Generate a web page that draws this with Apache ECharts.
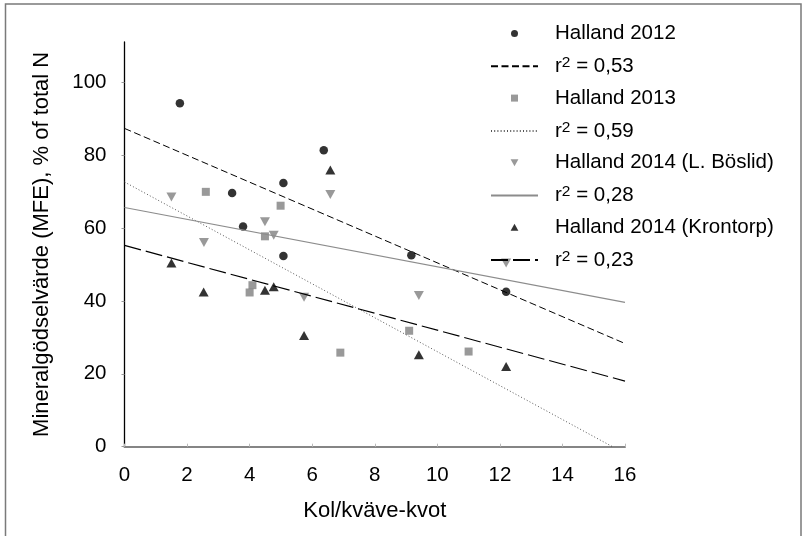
<!DOCTYPE html>
<html>
<head>
<meta charset="utf-8">
<script src="https://cdn.jsdelivr.net/npm/echarts@6/dist/echarts.min.js"></script>
<style>
html,body{margin:0;padding:0;background:#fff;}
#chart{width:807px;height:536px;}
</style>
</head>
<body>
<div id="chart"></div>
<script>
// ---- data ----
const xTicks = [0, 2, 4, 6, 8, 10, 12, 14, 16];
const yTicks = [0, 20, 40, 60, 80, 100];

const x2012 = [1.77, 3.44, 3.79, 5.08, 5.08, 6.37, 9.17, 12.2];
const y2012 = [94.2, 69.6, 60.4, 72.3, 52.3, 81.3, 52.5, 42.5];

const x2013 = [2.6, 4.0, 4.09, 4.49, 4.99, 6.9, 9.1, 11.0];
const y2013 = [69.9, 42.3, 44.3, 57.7, 66.1, 25.8, 31.8, 26.1];

const xBoslid = [1.5, 2.54, 4.49, 4.77, 5.74, 6.58, 9.41, 12.2];
const yBoslid = [68.5, 56.0, 61.7, 58.0, 41.0, 69.2, 41.5, 50.4];

const xKron = [1.5, 2.53, 4.49, 4.77, 5.74, 6.58, 9.41, 12.2];
const yKron = [50.4, 42.4, 42.9, 43.9, 30.5, 75.9, 25.2, 22.0];

// trend line end points [x, y]
const trend2012 = [[0, 87.3], [16, 28.3]];
const trend2013 = [[0, 72.6], [15.6, 0]];
const trendBoslid = [[0, 65.6], [16, 39.6]];
const trendKron = [[0, 55.2], [16, 18.0]];

const names = ['Halland 2012', 'r² = 0,53', 'Halland 2013', 'r² = 0,59',
  'Halland 2014 (L. Böslid)', 'r² = 0,28', 'Halland 2014 (Krontorp)', 'r² = 0,23'];

function pairs(xs, ys) { return xs.map((x, i) => [x, ys[i]]); }

const FONT = 'Liberation Sans, Arial, sans-serif';
const downTri = 'path://M0,0L10,0L5,9Z';
const upTri = 'path://M5,0L10,9L0,9Z';
const square = 'path://M0,0L10,0L10,10L0,10Z';
const hidden = {color: 'rgba(0,0,0,0)', borderWidth: 0, opacity: 0};

const chart = echarts.init(document.getElementById('chart'), null, {renderer: 'canvas'});
chart.setOption({
  backgroundColor: '#fff',
  animation: false,
  textStyle: {fontFamily: FONT},
  graphic: [{
    type: 'rect', shape: {x: 5.5, y: 4, width: 795.5, height: 540},
    style: {fill: 'none', stroke: '#7a7a7a', lineWidth: 1.5}, silent: true, z: 100
  }],
  grid: {left: 124.5, top: 42, width: 500.5, height: 404.7, containLabel: false},
  xAxis: {
    type: 'value', min: 0, max: 16, interval: 2,
    name: 'Kol/kväve-kvot', nameLocation: 'middle', nameGap: 53,
    nameTextStyle: {fontFamily: FONT, fontSize: 22, color: '#000'},
    axisLine: {show: true, onZero: false, lineStyle: {color: '#858585', width: 2}},
    axisTick: {show: true, inside: true, length: 3, lineStyle: {color: '#bbb', width: 1}},
    axisLabel: {fontFamily: FONT, fontSize: 20.5, color: '#000', margin: 18},
    splitLine: {show: false}
  },
  yAxis: {
    type: 'value', min: 0, max: 111, interval: 20,
    name: 'Mineralgödselvärde (MFE), % of total N', nameLocation: 'middle', nameGap: 72,
    nameTextStyle: {fontFamily: FONT, fontSize: 22, color: '#000', padding: [0, 0, 0, 0]},
    axisLine: {show: true, onZero: false, lineStyle: {color: '#000', width: 1.3}},
    axisTick: {show: true, length: 3, customValues: yTicks, lineStyle: {color: '#999', width: 1}},
    axisLabel: {fontFamily: FONT, fontSize: 20.5, color: '#000', margin: 18, customValues: yTicks},
    splitLine: {show: false}
  },
  legend: {
    orient: 'vertical', left: 490, top: 23, padding: 0,
    itemWidth: 47, itemHeight: 7, itemGap: 10.8,
    data: [
      {name: names[0], icon: 'circle'},
      {name: names[1], itemStyle: hidden},
      {name: names[2], icon: square},
      {name: names[3], itemStyle: hidden},
      {name: names[4], icon: downTri},
      {name: names[5], itemStyle: hidden},
      {name: names[6], icon: upTri},
      {name: names[7], itemStyle: hidden}
    ],
    formatter: function (n) {
      if (n.indexOf('r²') === 0) {
        return '{t|r}{s|2}{t|' + n.slice(2) + '}';
      }
      return '{t|' + n + '}';
    },
    textStyle: {
      fontFamily: FONT, fontSize: 20.5, color: '#000', padding: [0, 0, 0, 12],
      rich: {
        t: {fontFamily: FONT, fontSize: 20.5, lineHeight: 23, color: '#000'},
        s: {fontFamily: FONT, fontSize: 15.5, lineHeight: 14, verticalAlign: 'top', color: '#000'}
      }
    }
  },
  series: [
    {name: names[0], type: 'scatter', data: pairs(x2012, y2012), symbol: 'circle', symbolSize: 8.5,
     itemStyle: {color: '#000'}},
    {name: names[1], type: 'line', data: trend2012, symbol: 'none', showSymbol: false,
     lineStyle: {color: '#000', width: 1, type: [7, 3.5]}, itemStyle: {color: '#000'}},
    {name: names[2], type: 'scatter', data: pairs(x2013, y2013), symbol: 'rect', symbolSize: 8,
     itemStyle: {color: '#808080'}},
    {name: names[3], type: 'line', data: trend2013, symbol: 'none', showSymbol: false,
     lineStyle: {color: '#555', width: 1, type: [1, 2.2]}, itemStyle: {color: '#555'}},
    {name: names[4], type: 'scatter', data: pairs(xBoslid, yBoslid), symbol: downTri, symbolSize: [10, 9],
     itemStyle: {color: '#808080'}},
    {name: names[5], type: 'line', data: trendBoslid, symbol: 'none', showSymbol: false,
     lineStyle: {color: '#8c8c8c', width: 1.2, type: 'solid'}, itemStyle: {color: '#8c8c8c'}},
    {name: names[6], type: 'scatter', data: pairs(xKron, yKron), symbol: upTri, symbolSize: [10, 9],
     itemStyle: {color: '#000'}},
    {name: names[7], type: 'line', data: trendKron, symbol: 'none', showSymbol: false,
     lineStyle: {color: '#000', width: 1.2, type: [17, 5]}, itemStyle: {color: '#000'}}
  ]
});
</script>
</body>
</html>
